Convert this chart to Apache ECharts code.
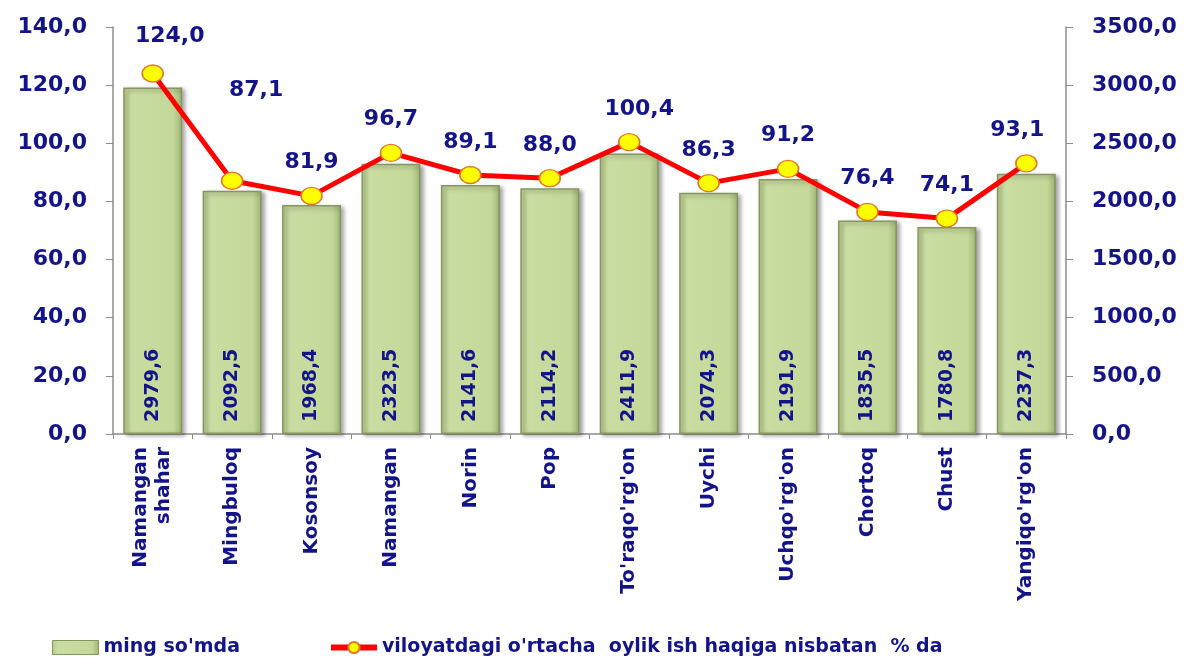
<!DOCTYPE html>
<html>
<head>
<meta charset="utf-8">
<script src="https://cdn.jsdelivr.net/npm/echarts@6/dist/echarts.min.js"></script>
<style>
    html, body { margin: 0; padding: 0; background: #fff; }
    #chart { width: 1190px; height: 664px; }
</style>
</head>
<body>
<div id="chart"></div>
<script>
// tumanlar
const districts = ['Namangan\nshahar', 'Mingbuloq', 'Kosonsoy', 'Namangan', 'Norin', 'Pop',
    "To'raqo'rg'on", 'Uychi', "Uchqo'rg'on", 'Chortoq', 'Chust', "Yangiqo'rg'on"]
// ming so'mda
const wages = [2979.6, 2092.5, 1968.4, 2323.5, 2141.6, 2114.2, 2411.9, 2074.3, 2191.9, 1835.5, 1780.8, 2237.3]
// viloyat o'rtachasiga nisbatan, %
const percents = [124.0, 87.1, 81.9, 96.7, 89.1, 88.0, 100.4, 86.3, 91.2, 76.4, 74.1, 93.1]

const barName = "ming so'mda"
const lineName = "viloyatdagi o'rtacha  oylik ish haqiga nisbatan  % da"

const navy = '#14148a'
const font = 'DejaVu Sans, Arial, sans-serif'
const fmt = v => v.toFixed(1).replace('.', ',')

// yorliqlarni qo'lda surish (Excel'dagidek)
function lineLabel(i) {
    if (i === 0) return { offset: [17, -4] }
    if (i === 1) return { distance: 70, offset: [24, 0] }
    if (i === 6) return { offset: [10, 0] }
    if (i === 11) return { offset: [-9, 0] }
    return undefined
}

let option = {
    animation: false,
    grid: {
        left: 113,
        right: 124,
        top: 27,
        bottom: 230
    },
    legend: {
        bottom: 2,
        left: 47,
        itemGap: 88,
        itemWidth: 46,
        itemHeight: 14,
        textStyle: {
            color: navy,
            fontFamily: font,
            fontWeight: 'bold',
            fontSize: 19
        },
        data: [
            { name: barName, icon: 'rect', itemStyle: { borderWidth: 1 } },
            { name: lineName, lineStyle: { width: 6 } }
        ]
    },
    xAxis: {
        type: 'category',
        data: districts,
        axisTick: {
            show: true,
            alignWithLabel: false,
            lineStyle: { color: '#8c8c8c' }
        },
        axisLine: {
            lineStyle: { color: '#8c8c8c', width: 1.5 }
        },
        axisLabel: {
            rotate: 90,
            interval: 0,
            margin: 13,
            color: navy,
            fontFamily: font,
            fontWeight: 'bold',
            fontSize: 20,
            lineHeight: 23
        }
    },
    yAxis: [
        {
            type: 'value',
            min: 0,
            max: 140,
            interval: 20,
            splitLine: { show: false },
            axisLine: { show: true, lineStyle: { color: '#8c8c8c', width: 1.5 } },
            axisTick: { show: true, length: 7, inside: false, lineStyle: { color: '#8c8c8c' } },
            axisLabel: {
                formatter: fmt,
                margin: 26,
                color: navy,
                fontFamily: font,
                fontWeight: 'bold',
                fontSize: 22
            }
        },
        {
            type: 'value',
            min: 0,
            max: 3500,
            interval: 500,
            splitLine: { show: false },
            axisLine: { show: true, lineStyle: { color: '#8c8c8c', width: 1.5 } },
            axisTick: { show: true, length: 7, lineStyle: { color: '#8c8c8c' } },
            axisLabel: {
                formatter: fmt,
                margin: 26,
                color: navy,
                fontFamily: font,
                fontWeight: 'bold',
                fontSize: 22
            }
        }
    ],
    series: [
        {
            name: barName,
            type: 'bar',
            yAxisIndex: 1,
            barWidth: 59,
            data: wages,
            itemStyle: {
                color: new echarts.graphic.LinearGradient(0, 0, 1, 0, [
                    { offset: 0, color: '#b4c988' },
                    { offset: 0.12, color: '#cadda2' },
                    { offset: 0.85, color: '#c4d899' },
                    { offset: 1, color: '#9fb474' }
                ]),
                borderColor: '#869660',
                borderWidth: 1.5,
                shadowColor: 'rgba(0,0,0,0.35)',
                shadowBlur: 4,
                shadowOffsetX: 3,
                shadowOffsetY: 2
            },
            label: {
                show: true,
                position: 'insideBottom',
                rotate: 90,
                align: 'left',
                verticalAlign: 'middle',
                distance: 12,
                formatter: p => fmt(p.value),
                color: navy,
                fontFamily: font,
                fontWeight: 'bold',
                fontSize: 19
            }
        },
        {
            name: lineName,
            type: 'line',
            yAxisIndex: 0,
            data: percents.map((v, i) => ({
                value: v,
                label: lineLabel(i)
            })),
            symbol: 'circle',
            symbolSize: [21, 17],
            lineStyle: { color: '#ff0000', width: 5 },
            itemStyle: {
                color: '#ffff00',
                borderColor: '#e0782c',
                borderWidth: 1.5
            },
            label: {
                show: true,
                position: 'top',
                distance: 13,
                formatter: p => fmt(p.value),
                color: navy,
                fontFamily: font,
                fontWeight: 'bold',
                fontSize: 22
            },
            z: 5
        }
    ]
}

var myChart = echarts.init(document.getElementById('chart'))
myChart.setOption(option)
</script>
</body>
</html>
